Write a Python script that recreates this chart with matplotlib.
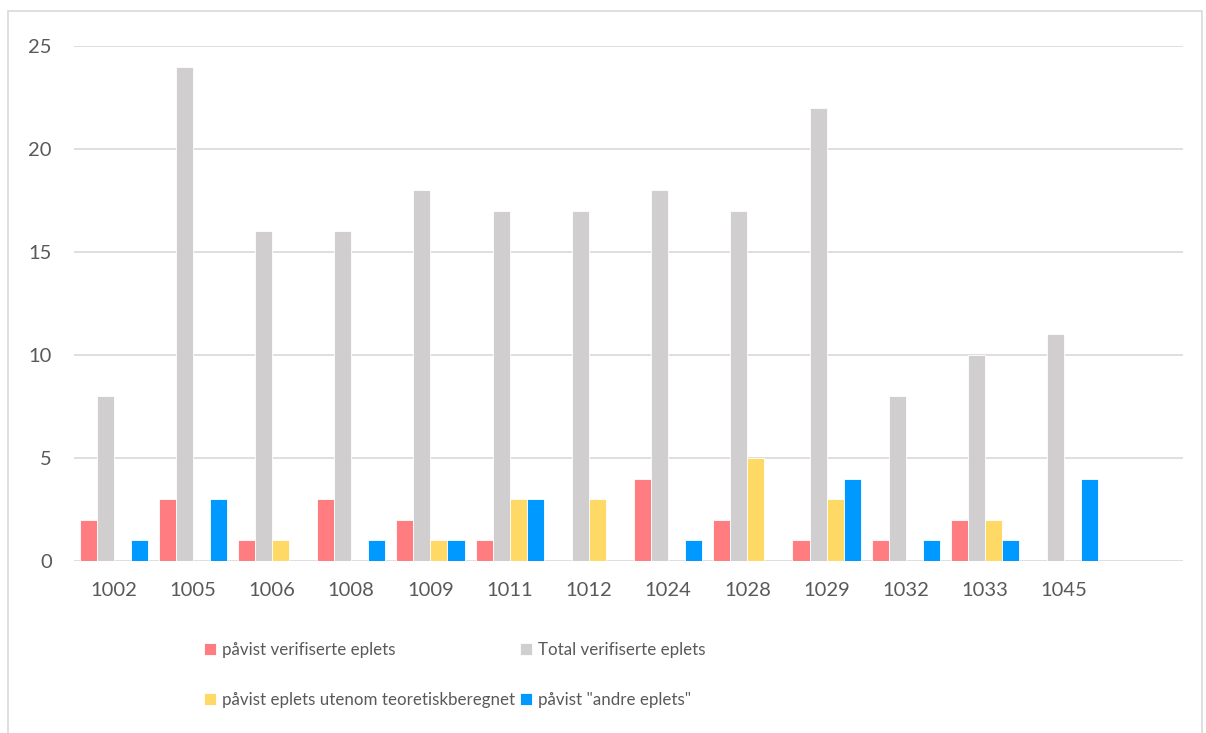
import numpy as np
import matplotlib.pyplot as plt
from matplotlib.patches import Rectangle

plt.rcParams['font.family'] = ['Lato', 'DejaVu Sans']

prover = ['1002', '1005', '1006', '1008', '1009', '1011', '1012',
          '1024', '1028', '1029', '1032', '1033', '1045', '']
pavist_verifiserte = [2, 3, 1, 3, 2, 1, 0, 4, 2, 1, 1, 2, 0, 0]
total_verifiserte = [8, 24, 16, 16, 18, 17, 17, 18, 17, 22, 8, 10, 11, 0]
utenom_teoretisk = [0, 0, 1, 0, 1, 3, 3, 0, 5, 3, 0, 2, 0, 0]
andre_eplets = [1, 3, 0, 1, 1, 3, 0, 1, 0, 4, 1, 1, 4, 0]

serier = [
    ('påvist verifiserte eplets', pavist_verifiserte, '#FF7C80'),
    ('Total verifiserte eplets', total_verifiserte, '#D0CECE'),
    ('påvist eplets utenom teoretiskberegnet', utenom_teoretisk, '#FFD966'),
    ('påvist "andre eplets"', andre_eplets, '#0099FF'),
]

tekst = '#595959'
fig = plt.figure(figsize=(12.06, 7.33), dpi=100)
ax = fig.add_axes([74/1206, 1-561/733, (1183-74)/1206, (561-46)/733])

x = np.arange(len(prover))
w = 0.215
bars = []
for i, (navn, verdier, farge) in enumerate(serier):
    b = ax.bar(x + (i - 1.5) * w, verdier, w, color=farge, label=navn,
               edgecolor='white', linewidth=0.6)
    bars.append(b)

ax.set_xlim(-0.5, len(prover) - 0.5)
ax.set_ylim(0, 25)
ax.set_yticks(range(0, 26, 5))
ax.set_xticks(x)
ax.set_xticklabels(prover)
ax.grid(axis='y', color='#D9D9D9', linewidth=1.2)
ax.set_axisbelow(True)
for s in ax.spines.values():
    s.set_visible(False)
ax.tick_params(length=0, labelsize=14.5, colors=tekst)
ax.tick_params(axis='x', pad=15)
ax.tick_params(axis='y', pad=16)

# legend: fills column by column
h = [bars[0], bars[2], bars[1], bars[3]]
l = [serier[0][0], serier[2][0], serier[1][0], serier[3][0]]
fig.legend(h, l, loc='center left', bbox_to_anchor=(189/1206, 1-675/733),
           ncol=2, frameon=False, fontsize=12.2, labelcolor=tekst,
           handlelength=0.72, handleheight=0.72, handletextpad=0.35,
           columnspacing=0.25, labelspacing=2.0)

fig.patches.append(Rectangle((8/1206, -0.05), (1202-8)/1206, 1.05-11/733,
                             transform=fig.transFigure, fill=False,
                             edgecolor='#D9D9D9', linewidth=1.2))

fig.savefig('out.png', dpi=100)
